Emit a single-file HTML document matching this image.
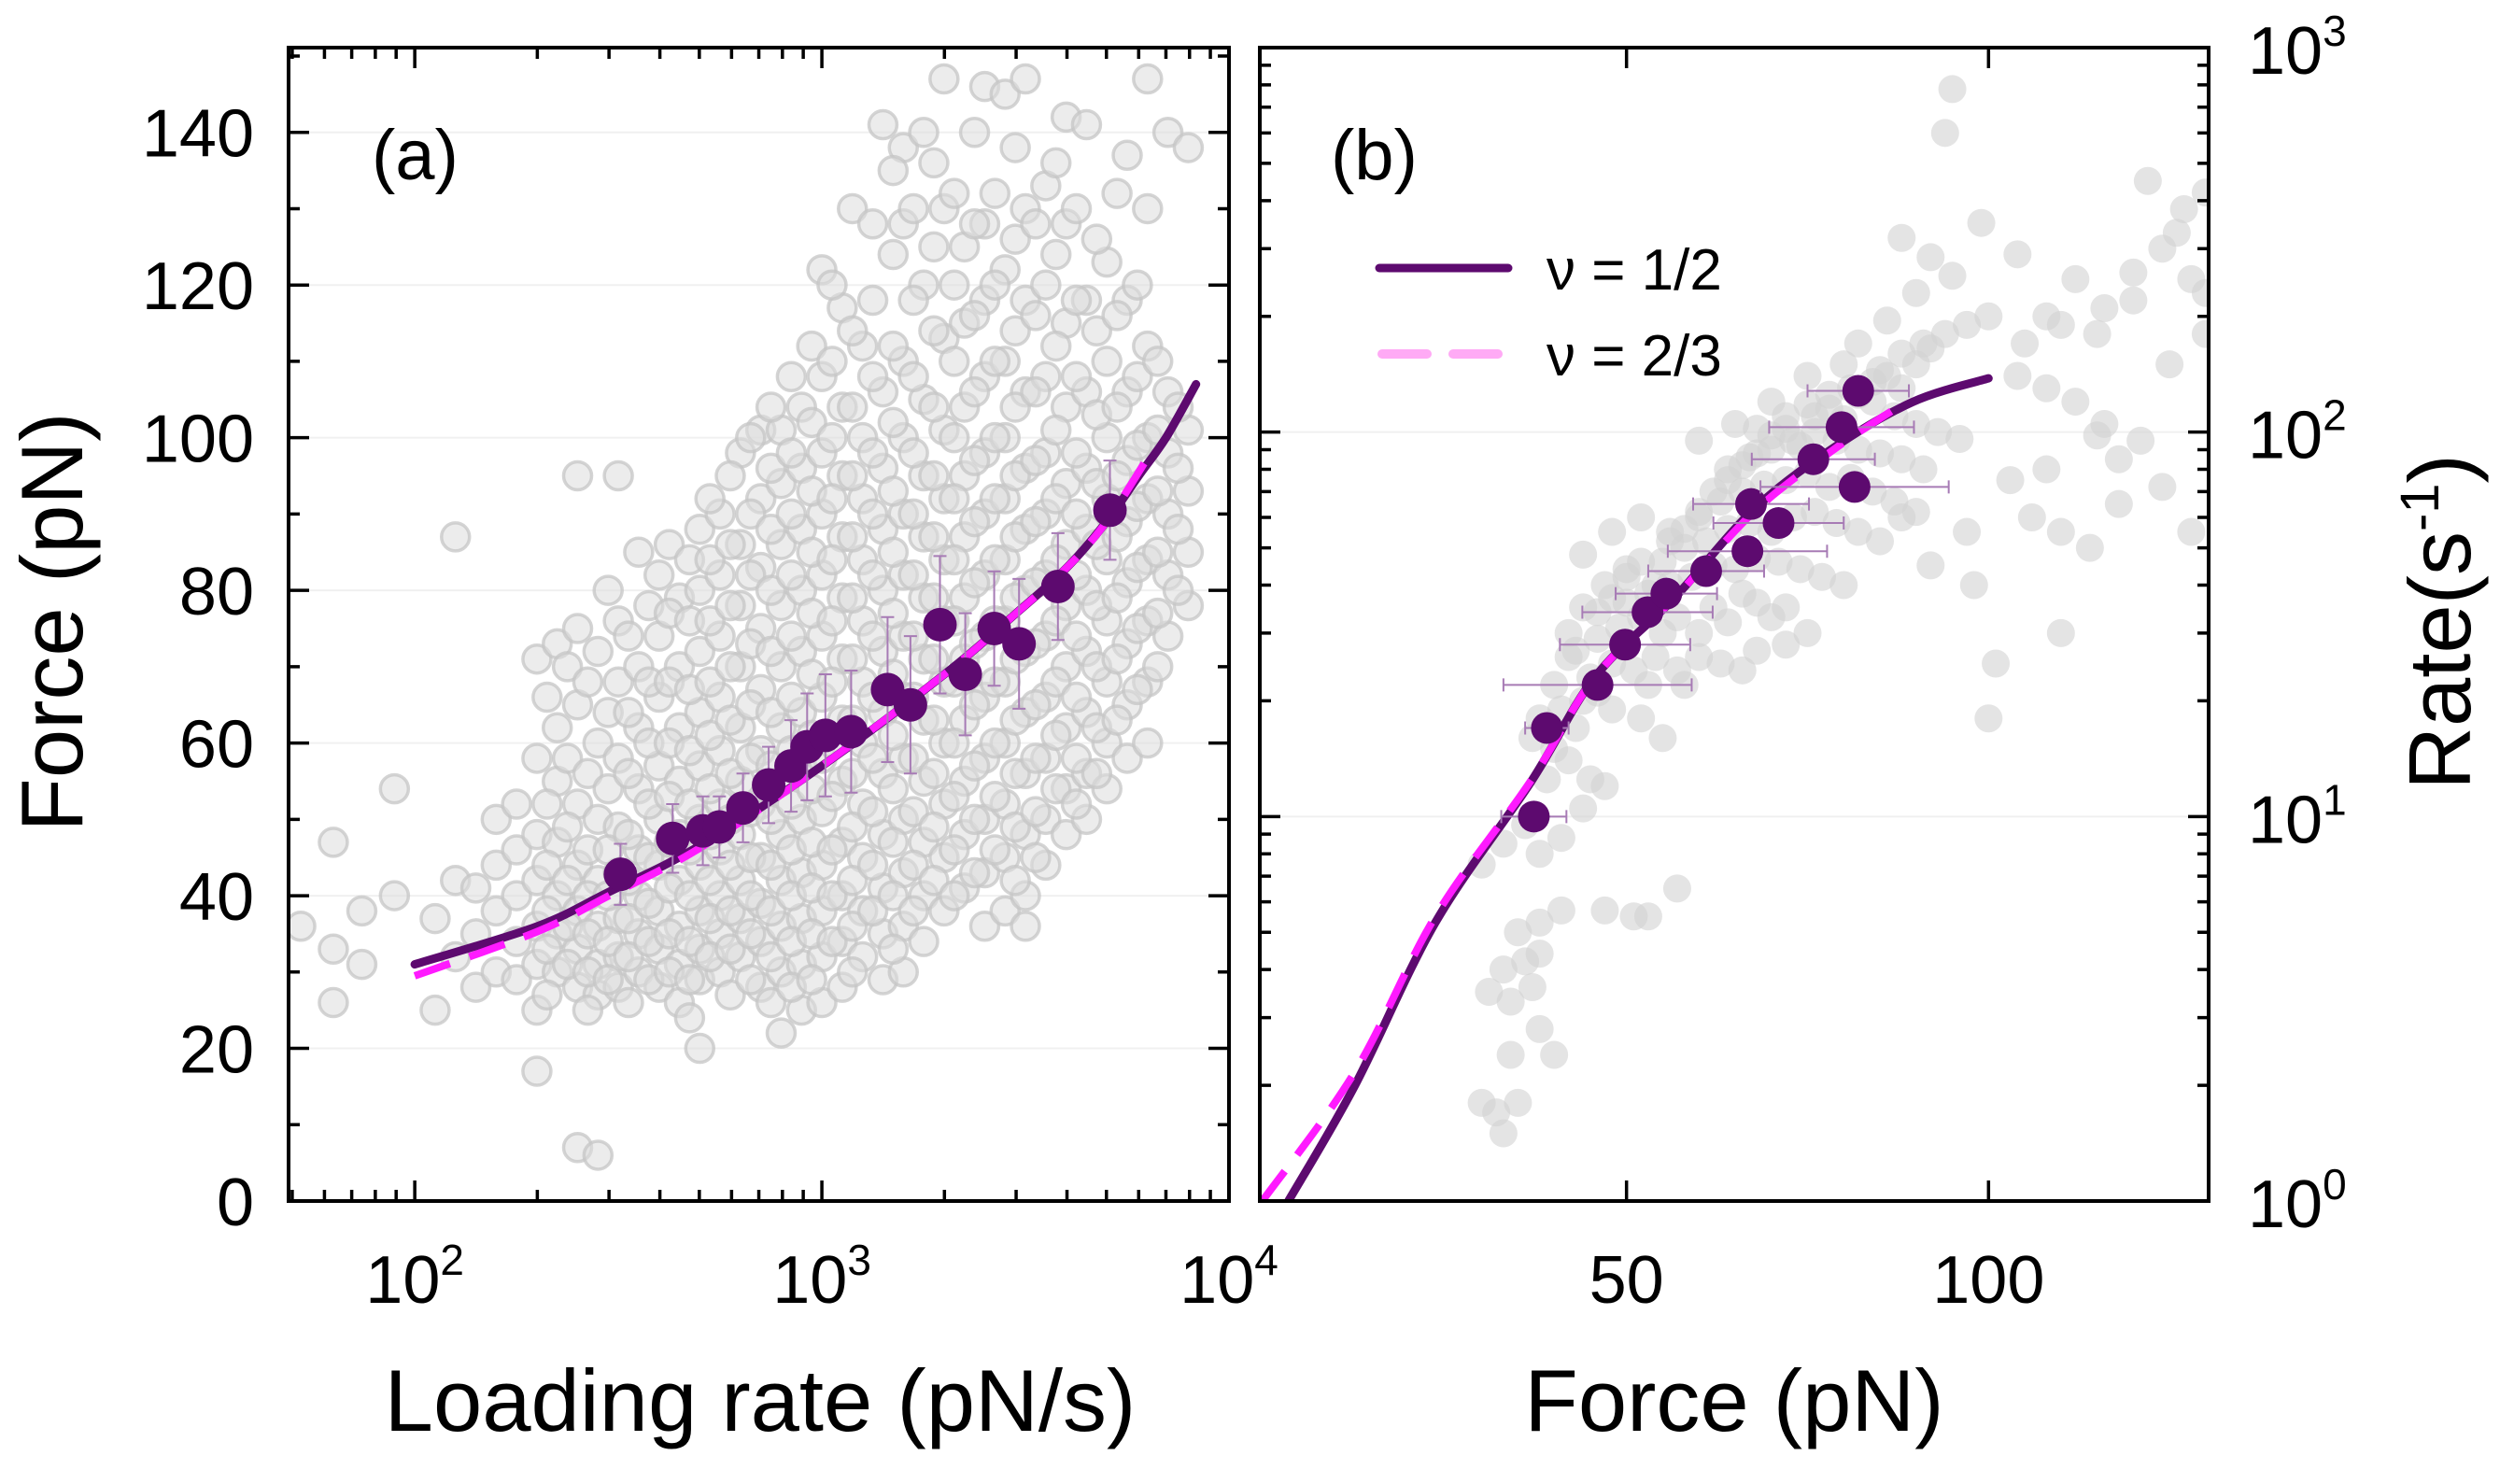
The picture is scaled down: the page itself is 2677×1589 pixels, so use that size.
<!DOCTYPE html>
<html><head><meta charset="utf-8"><style>
html,body{margin:0;padding:0;background:#fff;}
svg{display:block;font-family:"Liberation Sans",Arial,sans-serif;}
</style></head><body>
<svg id="chart" width="2677" height="1589" viewBox="0 0 2677 1589" xmlns="http://www.w3.org/2000/svg">
<g id="gA"></g>
<g id="gB"></g>
</svg>
<script>
// ---------- Panel (a) data ----------
const aColLogRate=[1.72,1.8,1.87,1.95,2.05,2.1,2.15,2.2,2.25,2.3,2.35,2.4,2.45,2.5,2.55,2.6,2.65,2.7,2.75,2.8,2.85,2.9,2.95,3.0,3.05,3.1,3.15,3.2,3.25,3.3,3.35,3.4,3.45,3.5,3.55,3.6,3.65,3.7,3.75,3.8,3.85,3.9,
2.325,2.375,2.425,2.475,2.525,2.575,2.625,2.675,2.725,2.775,2.825,2.875,2.925,2.975,3.025,3.075,3.125,3.175,3.225,3.275,3.325,3.375,3.425,3.475,3.525,3.575,3.625,3.675,3.725,3.775,3.825,3.875];
const aColForces=[[36],[47,33,26],[38,31],[40,54],[37,25],[87,42,32],[41,35,28],[44,38,30,50],[46,40,34,29,52],
[71,58,48,42,36,31,25,17],[73,62,55,47,40,35,30],[75,65,52,44,38,33,28,7,95],[72,60,50,42,36,31,27,6],
[76,68,58,49,43,37,32,28,95],[85,70,62,54,46,40,35,30],[82,74,66,57,50,44,38,33,28],[79,70,62,55,48,42,36,31,26],
[88,80,72,64,57,50,44,38,33,29,20],[90,82,74,66,59,52,46,40,35,30],[98,86,78,70,62,55,48,42,37,32],
[101,92,83,75,67,59,52,45,39,34,28],[101,94,86,78,70,62,55,48,42,36,30,22],[104,96,88,80,72,64,57,50,43,37,31,25],
[122,108,98,90,82,74,66,58,51,44,38,32,26],[117,104,95,87,79,71,63,55,47,40,34,28],[112,100,92,84,76,68,60,52,45,38,32],
[141,106,96,88,80,72,64,56,48,41,35,29],[138,128,110,100,90,82,74,66,58,50,43,36,30],[140,120,105,95,87,79,71,63,55,47,40,34],
[147,130,113,101,92,84,76,68,60,52,45,38],[125,115,104,95,87,79,71,63,55,48,41],[146,128,118,108,98,90,82,74,66,58,50,43,36],
[145,122,110,100,92,84,76,68,60,52,45,38],[147,130,118,106,96,88,80,72,64,56,48,40,36],[133,120,108,98,90,82,74,66,58,50,44],
[142,128,115,104,94,86,78,70,62,54,48],[141,118,106,96,88,80,72,64,56,50],[123,110,100,92,84,76,68,60,54],
[137,118,106,97,89,81,73,65,58],[147,130,112,100,92,84,76,68,60],[140,106,98,90,82,74],[138,101,93,85,78],
[66,52,44,38,33,27],[70,58,49,42,36,31],[68,56,46,40,35,30,25],[80,64,54,46,40,34,29],[74,64,56,48,42,37,32,26],
[78,68,60,52,45,39,34,29],[86,77,68,60,53,47,41,35,30],[84,76,67,59,52,46,40,34,29,24],[92,84,76,68,61,54,48,42,37,32],
[95,86,78,70,63,56,50,44,38,33,27],[100,90,82,73,65,58,51,45,40,35,29],[104,96,88,80,72,64,57,50,44,38,32,26],
[108,98,90,82,74,66,59,52,46,40,34,28],[112,102,93,85,77,69,61,54,47,41,35,29],[120,110,100,92,84,76,68,60,53,46,40,34],
[130,114,104,95,87,79,71,63,56,49,42,36,30],[128,118,108,98,90,82,74,66,58,51,44,38],[135,124,112,102,93,85,77,69,61,54,47,40,33],
[130,118,108,98,90,82,74,66,58,51,44,38],[136,125,114,104,95,87,79,71,63,56,49,42],[132,120,110,100,92,84,76,68,60,53,46,40],
[140,128,116,106,97,89,81,73,65,57,50,43],[132,120,110,100,92,84,76,68,60,53,46],[138,126,114,104,95,87,79,71,63,56,49,42],
[128,116,106,97,89,81,73,65,58,51,45],[136,124,112,101,92,84,76,68,61,54],[130,118,108,98,90,82,74,66,58,52],
[126,114,103,94,86,78,70,62,56],[132,116,104,95,87,79,71,63],[120,108,99,91,83,75,67],[110,101,93,85,77,70],[104,96,88,80]];
const aMeanRate=[320,430,510,560,640,740,840,920,1020,1180,1450,1650,1950,2250,2650,3050,3800,5100];
const aMeanForce=[42.8,47.5,48.5,49,51.5,54.5,57,59.5,61,61.5,67,65,75.5,69,75,73,80.5,90.5];
const aMeanErr=[4,4.5,4.5,4,4.5,5,6,7,8,8,9.5,9,9,8,7.5,8.5,7,6.5];
const aFitHalfRate=[100,200,300,500,1000,2000,3000,4000,5000,6000,7000,8300];
const aFitHalfForce=[31,36,40.5,46.5,57,69,77,83,89,95,100,107];
const aFitTwoThirdRate=[100,200,300,500,1000,2000,3000,4000,5000,6350];
const aFitTwoThirdForce=[29.5,35.3,40,46.2,57,69,77,83,89,97.6];
const aYTicks=[0,20,40,60,80,100,120,140];
const aXTickExp=[2,3,4];

// ---------- Panel (b) data ----------
const bScatterForce=[30,32,33,35,34,40,38,31,34,37,33,36,38,35,38,41,47,51,57,53,30,33,36,38,41,44,45,47,39,42,40,37,38,41,43,44,46,48,52,55,45,48,51,54,53,57,58,60,63,66,68,72,43,46,49,52,55,57,60,62,64,66,68,70,72,75,50,53,56,59,62,65,68,71,74,77,80,47,50,55,58,61,64,67,70,73,76,79,82,85,60,63,66,69,72,75,78,81,84,87,90,56,64,67,70,73,76,79,82,85,88,91,72,75,78,81,84,87,90,93,96,68,85,88,91,94,97,100,82,86,90,95,95,94,99,88,92,104,108,112,116,120,124,128,130,126,130,122,127,104,108,112,116,121,118,108,103,106,110,114,110,98,118,124,128,100,115,101,97,92,88,
42,44,46,48,50,52,54,56,58,60,62,64,66,68,70,72,74,76,78,80,82,84,86,88,90,92,60,65,70,75,80,110,115,105,120,125,130,48,52,44,40,42];
const bScatterRate=[1.8,1.7,1.5,1.8,2.4,2.4,2.8,3.5,3.3,3.6,4.0,4.2,4.4,5.0,5.3,5.7,5.7,5.5,6.5,5.5,7.5,8.5,9.5,8,8.8,10.5,12.5,12,12.5,14,15,16,18,19,17,20,21,19,18,16,23,25,24,26,22,24,22,26,25,24,27,28,27,29,31,33,30,33,30,35,32,38,36,33,35,30,36,38,40,42,45,44,47,46,44,42,40,40,44,46,50,52,56,58,55,60,62,58,55,52,60,66,70,73,75,78,72,76,70,66,62,55,80,86,90,95,100,95,90,88,85,80,110,118,125,130,120,110,105,100,96,102,145,160,170,180,190,200,170,195,230,255,780,600,350,320,285,290,200,250,210,260,300,250,230,330,420,450,380,140,130,120,105,95,85,80,75,60,55,50,30,40,65,72,55,18,98,25,55,45,60,
30,35,34,37,42,46,40,52,56,62,70,75,82,88,98,102,92,110,115,108,125,135,140,130,150,165,95,105,120,140,150,190,180,170,220,150,180,55,60,48,22,26];
const bMeanForce=[37.2,39,46,49.8,52.9,55.5,61,66.7,67.2,71,75.8,79.7,81.5,82];
const bMeanRate=[10,17,22,28,34,38,43.5,49,65,58,85,103,72,128];
const bMeanErr=[4.5,3,13,9,9,7,8,11,8,9,8.5,10,13,7];
const bFitHalfForce=[3.3,12.5,23.6,36.8,45.6,56.6,67.6,78.6,89.6,100];
const bFitHalfRate=[1,2.0,5.3,12.3,23,37,63,91,120,138];
const bFitTwoThirdForce=[-0.3,12.5,23.6,36.8,45.6,56.6,67.6,78.6,87.4];
const bFitTwoThirdRate=[1,2.17,5.5,12.4,23,37,62,90,116];
const bXTicks=[50,100];
const bYTickExp=[0,1,2,3];

// ---------- helpers ----------
const NS="http://www.w3.org/2000/svg";
function mk(parent,tag,attrs){const e=document.createElementNS(NS,tag);for(const k in attrs)e.setAttribute(k,attrs[k]);parent.appendChild(e);return e;}
const PURPLE="#5d0a6f", MAG="#ff1aff", ERR="#a77bb5", GRAYF="#dcdcdc";
function smoothPath(xs,ys,fx,fy){
 const p=xs.map((x,i)=>[fx(x),fy(ys[i])]);
 let d=`M${p[0][0].toFixed(1)} ${p[0][1].toFixed(1)}`;
 for(let i=0;i<p.length-1;i++){
  const p0=p[i-1]||p[i],p1=p[i],p2=p[i+1],p3=p[i+2]||p2;
  const c1=[p1[0]+(p2[0]-p0[0])/6,p1[1]+(p2[1]-p0[1])/6],c2=[p2[0]-(p3[0]-p1[0])/6,p2[1]-(p3[1]-p1[1])/6];
  d+=`C${c1[0].toFixed(1)} ${c1[1].toFixed(1)} ${c2[0].toFixed(1)} ${c2[1].toFixed(1)} ${p2[0].toFixed(1)} ${p2[1].toFixed(1)}`;
 }
 return d;
}

// ---------- Panel (a) ----------
const A={L:309,R:1316,T:51,B:1286,xmin:1.69,xmax:4,ymin:0,ymax:151.1};
function ax(r){return A.L+(Math.log10(r)-A.xmin)/(A.xmax-A.xmin)*(A.R-A.L);}
function axl(l){return A.L+(l-A.xmin)/(A.xmax-A.xmin)*(A.R-A.L);}
function ay(f){return A.B-(f-A.ymin)/(A.ymax-A.ymin)*(A.B-A.T);}
const gA=document.getElementById('gA');
const clipA=mk(gA,'clipPath',{id:'clipA'});mk(clipA,'rect',{x:A.L,y:A.T,width:A.R-A.L,height:A.B-A.T});
aYTicks.forEach(v=>{const l=mk(gA,'line',{x1:A.L,x2:A.R,y1:ay(v),y2:ay(v),stroke:'#f0f0f0','stroke-width':2});

});
const scA=mk(gA,'g',{'clip-path':'url(#clipA)'});


aColLogRate.forEach((lx,i)=>{aColForces[i].forEach(f=>{
 const c=mk(scA,'circle',{cx:axl(lx),cy:ay(f),r:15,fill:GRAYF,'fill-opacity':0.55,stroke:'#c6c6c6','stroke-width':3.5,'stroke-opacity':0.75});
 
 
});});
const fa1=mk(gA,'path',{d:smoothPath(aFitHalfRate,aFitHalfForce,ax,ay),fill:'none',stroke:PURPLE,'stroke-width':9,'stroke-linecap':'round'});


const fa2=mk(gA,'path',{d:smoothPath(aFitTwoThirdRate,aFitTwoThirdForce,ax,ay),fill:'none',stroke:MAG,'stroke-width':8,'stroke-dasharray':'40 22'});


aMeanRate.forEach((r,i)=>{
 const x=ax(r),y=ay(aMeanForce[i]),y1=ay(aMeanForce[i]+aMeanErr[i]),y2=ay(aMeanForce[i]-aMeanErr[i]);
 const e=mk(gA,'path',{d:`M${x} ${y1}V${y2}M${x-7} ${y1}H${x+7}M${x-7} ${y2}H${x+7}`,stroke:ERR,'stroke-width':2,fill:'none'});
 
 
 const c=mk(gA,'circle',{cx:x,cy:y,r:18,fill:PURPLE});
 
 
});
const frA=mk(gA,'rect',{x:A.L,y:A.T,width:A.R-A.L,height:A.B-A.T,fill:'none',stroke:'#000','stroke-width':4});


let tk='';
for(let v=0;v<=150;v+=10){const y=ay(v),len=v%20===0?22:12;tk+=`M${A.L} ${y}h${len}M${A.R} ${y}h${-len}`;}
for(let d=1;d<=3;d++){for(let m=1;m<=9;m++){const l=d+Math.log10(m);if(l<A.xmin||l>A.xmax)continue;const x=axl(l),len=m===1?22:12;tk+=`M${x} ${A.B}v${-len}M${x} ${A.T}v${len}`;}}
const tkA=mk(gA,'path',{d:tk,stroke:'#000','stroke-width':3.5,fill:'none'});


aYTicks.forEach(v=>{const t=mk(gA,'text',{x:272,y:ay(v)+26,'text-anchor':'end','font-size':72,fill:'#000'});t.textContent=v;

});
aXTickExp.forEach(e=>{const t=mk(gA,'text',{x:axl(e),y:1395,'text-anchor':'middle','font-size':72,fill:'#000'});
t.innerHTML='10<tspan font-size="46" dy="-30">'+e+'</tspan>';

});
let t1=mk(gA,'text',{x:814,y:1532,'text-anchor':'middle','font-size':94});t1.textContent='Loading rate (pN/s)';


let t2=mk(gA,'text',{x:0,y:0,'text-anchor':'middle','font-size':94,transform:'translate(88,666) rotate(-90)'});t2.textContent='Force (pN)';


let t3=mk(gA,'text',{x:398,y:192,'font-size':76});t3.textContent='(a)';



// ---------- Panel (b) ----------
const Bp={L:1349,R:2365,T:51,B:1286,xmin:-0.65,xmax:130.4,ymin:0,ymax:3};
function bx(f){return Bp.L+(f-Bp.xmin)/(Bp.xmax-Bp.xmin)*(Bp.R-Bp.L);}
function by(r){return Bp.B-(Math.log10(r)-Bp.ymin)/(Bp.ymax-Bp.ymin)*(Bp.B-Bp.T);}
const gB=document.getElementById('gB');
const clipB=mk(gB,'clipPath',{id:'clipB'});mk(clipB,'rect',{x:Bp.L,y:Bp.T,width:Bp.R-Bp.L,height:Bp.B-Bp.T});
[1,2].forEach(e=>{const l=mk(gB,'line',{x1:Bp.L,x2:Bp.R,y1:by(Math.pow(10,e)),y2:by(Math.pow(10,e)),stroke:'#f0f0f0','stroke-width':2});

});
const scB=mk(gB,'g',{'clip-path':'url(#clipB)'});


bScatterForce.forEach((f,i)=>{
 const c=mk(scB,'circle',{cx:bx(f),cy:by(bScatterRate[i]),r:15,fill:'#d2d2d2','fill-opacity':0.6});
 
 
});
const gfit=mk(gB,'g',{'clip-path':'url(#clipB)'});
const fb1=mk(gfit,'path',{d:smoothPath(bFitHalfForce,bFitHalfRate,bx,by),fill:'none',stroke:PURPLE,'stroke-width':9,'stroke-linecap':'round'});


const fb2=mk(gfit,'path',{d:smoothPath(bFitTwoThirdForce,bFitTwoThirdRate,bx,by),fill:'none',stroke:MAG,'stroke-width':8,'stroke-dasharray':'40 22'});


bMeanForce.forEach((f,i)=>{
 const y=by(bMeanRate[i]),x=bx(f),x1=bx(f-bMeanErr[i]),x2=bx(f+bMeanErr[i]);
 const e=mk(gB,'path',{d:`M${x1} ${y}H${x2}M${x1} ${y-7}V${y+7}M${x2} ${y-7}V${y+7}`,stroke:ERR,'stroke-width':2,fill:'none'});
 
 
 const c=mk(gB,'circle',{cx:x,cy:y,r:17,fill:PURPLE});
 
 
});
const frB=mk(gB,'rect',{x:Bp.L,y:Bp.T,width:Bp.R-Bp.L,height:Bp.B-Bp.T,fill:'none',stroke:'#000','stroke-width':4});


let tb='';
for(let d=0;d<3;d++){for(let m=1;m<=9;m++){const y=by(m*Math.pow(10,d)),len=m===1?22:12;tb+=`M${Bp.L} ${y}h${len}M${Bp.R} ${y}h${-len}`;}}
tb+=`M${Bp.L} ${Bp.T}h22M${Bp.R} ${Bp.T}h-22`;
bXTicks.forEach(v=>{const x=bx(v);tb+=`M${x} ${Bp.B}v-22M${x} ${Bp.T}v22`;});
const tkB=mk(gB,'path',{d:tb,stroke:'#000','stroke-width':3.5,fill:'none'});


bXTicks.forEach(v=>{const t=mk(gB,'text',{x:bx(v),y:1395,'text-anchor':'middle','font-size':72});t.textContent=v;

});
bYTickExp.forEach(e=>{const t=mk(gB,'text',{x:2407,y:by(Math.pow(10,e))+28,'font-size':72});
t.innerHTML='10<tspan font-size="46" dy="-30">'+e+'</tspan>';

});
let t4=mk(gB,'text',{x:1857,y:1532,'text-anchor':'middle','font-size':94});t4.textContent='Force (pN)';


let t5=mk(gB,'text',{x:0,y:0,'text-anchor':'middle','font-size':94,transform:'translate(2645,666) rotate(-90)'});
t5.innerHTML='Rate(s<tspan font-size="58" dy="-34">-1</tspan><tspan dy="34">)</tspan>';


let t6=mk(gB,'text',{x:1425,y:192,'font-size':76});t6.textContent='(b)';


const lg=mk(gB,'g',{});


const l1=mk(lg,'line',{x1:1477,x2:1615,y1:287,y2:287,stroke:PURPLE,'stroke-width':9,'stroke-linecap':'round'});


const l2=mk(lg,'line',{x1:1480,x2:1615,y1:379,y2:379,stroke:'#ffaaf5','stroke-width':10,'stroke-dasharray':'48 28','stroke-linecap':'round'});


const lt1=mk(lg,'text',{x:1656,y:310,'font-size':62});lt1.textContent='ν = 1/2';


const lt2=mk(lg,'text',{x:1656,y:402,'font-size':62});lt2.textContent='ν = 2/3';


</script>
</body></html>
